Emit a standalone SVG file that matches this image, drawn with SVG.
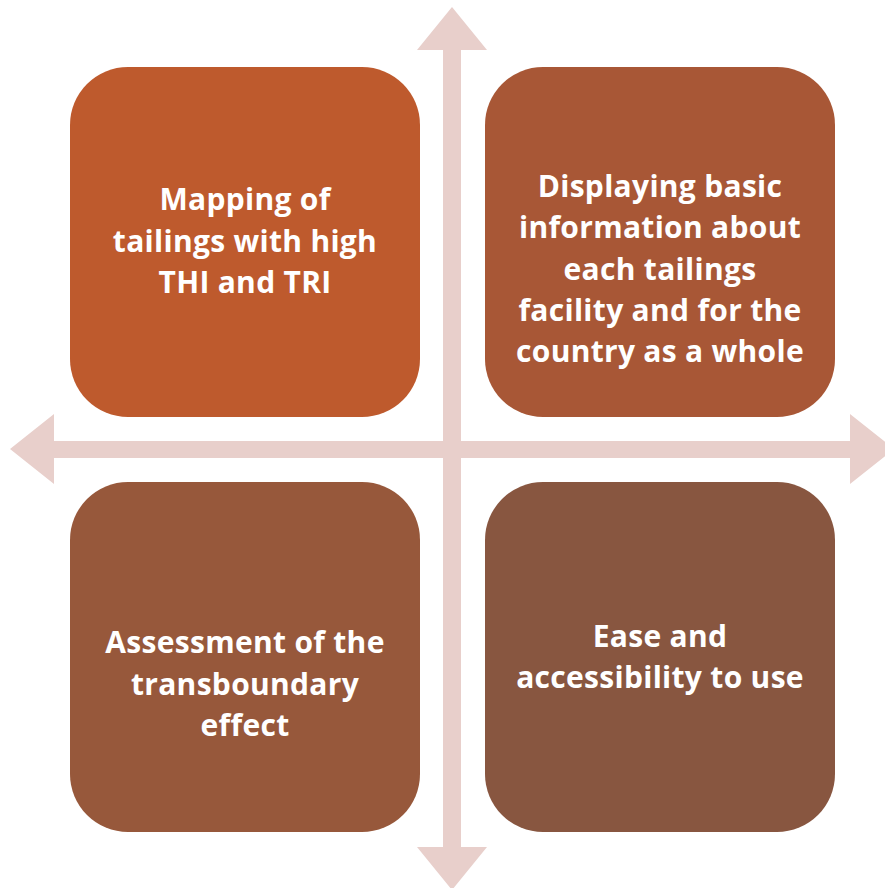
<svg xmlns="http://www.w3.org/2000/svg" width="885" height="888" viewBox="0 0 885 888">
  <style>
    .box { stroke: none; }
    .lbl { font-family: "Open Sans", "Lato", "Liberation Sans", sans-serif; font-weight: bold; font-size: 30px; letter-spacing: 0.3px; fill: #FFFFFF; text-anchor: middle; }
    .axis { fill: #E8CFCB; stroke: none; }
  </style>
  <rect width="885" height="888" fill="#FFFFFF"/>

  <!-- double-headed axes crossing at the centre -->
  <g id="connectors">
    <polygon class="axis" points="452,7 487,50 461,50 461,847 487,847 452,890 417,847 443,847 443,50 417,50"/>
    <polygon class="axis" points="10,449 54,414 54,441 850,441 850,414 894,449 850,484 850,458 54,458 54,484"/>
  </g>

  <g id="node-mapping">
    <rect class="box" x="70" y="67" width="350" height="350" rx="58" ry="58" fill="#BE5A2D"/>
    <text class="lbl" x="245" y="210">Mapping of</text>
    <text class="lbl" x="245" y="252">tailings with high</text>
    <text class="lbl" x="245" y="293">THI and TRI</text>
  </g>

  <g id="node-display">
    <rect class="box" x="485" y="67" width="350" height="350" rx="58" ry="58" fill="#A85736"/>
    <text class="lbl" x="660" y="197">Displaying basic</text>
    <text class="lbl" x="660" y="238">information about</text>
    <text class="lbl" x="660" y="280">each tailings</text>
    <text class="lbl" x="660" y="321">facility and for the</text>
    <text class="lbl" x="660" y="362">country as a whole</text>
  </g>

  <g id="node-assessment">
    <rect class="box" x="70" y="482" width="350" height="350" rx="58" ry="58" fill="#97583B"/>
    <text class="lbl" x="245" y="653">Assessment of the</text>
    <text class="lbl" x="245" y="695">transboundary</text>
    <text class="lbl" x="245" y="736">effect</text>
  </g>

  <g id="node-ease">
    <rect class="box" x="485" y="482" width="350" height="350" rx="58" ry="58" fill="#885640"/>
    <text class="lbl" x="660" y="647">Ease and</text>
    <text class="lbl" x="660" y="688">accessibility to use</text>
  </g>
</svg>
